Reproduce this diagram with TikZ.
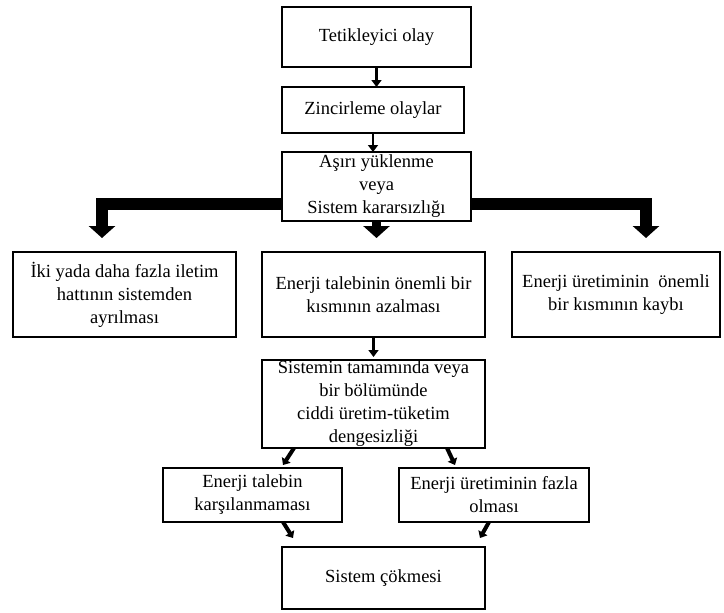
\documentclass[tikz,border=0pt]{standalone}
\usepackage{fontspec}
\setmainfont{Liberation Serif}
\usetikzlibrary{arrows.meta, positioning}
\tikzstyle{box}    = [rectangle, draw=black, line width=2pt, fill=white,
                      align=center, inner sep=2pt, outer sep=0pt,
                      font=\fontsize{18.5}{23}\selectfont]
\tikzstyle{arr}    = [-{Triangle[length=7pt,width=10pt]}, line width=2.5pt]
\tikzstyle{fatarr} = [-{Triangle[length=12pt,width=26pt]}, line width=12pt]
\tikzstyle{darr}   = [-{Triangle[length=6pt,width=10pt]}, line width=4pt]

\begin{document}
\begin{tikzpicture}[node distance=20pt and 26pt]

  \useasboundingbox (0,0) rectangle (724pt,-613pt);

  \node[box, minimum width=189pt, minimum height=60pt] (trig)
      at (376.5pt,-37pt) {Tetikleyici olay};
  \node[box, below=20pt of trig, xshift=-3.5pt, minimum width=182pt,
        minimum height=46pt] (chain) {Zincirleme olaylar};
  \node[box, below=19pt of chain, xshift=3.5pt, minimum width=189pt,
        minimum height=69pt, inner sep=0pt] (over)
      {Aşırı yüklenme\\veya\\Sistem kararsızlığı};

  \draw[arr] (trig.south) -- (trig.south |- chain.north);
  \draw[arr] (chain.south) -- (chain.south |- over.north);

  \node[box, below=31pt of over, xshift=-3pt, minimum width=223pt,
        minimum height=85pt] (mid)
      {Enerji talebinin önemli bir\\kısmının azalması};
  \node[box, left=of mid, minimum width=223pt, minimum height=85pt] (lft)
      {İki yada daha fazla iletim\\hattının sistemden\\ayrılması};
  \node[box, right=27pt of mid, minimum width=208pt, minimum height=85pt]
      (rgt) {Enerji üretiminin\ \ önemli\\bir kısmının kaybı};

  \draw[fatarr] ([yshift=-17.5pt]over.west)
      -| ([xshift=-22.5pt,yshift=14pt]lft.north);
  \draw[fatarr] ([yshift=-17.5pt]over.east)
      -| ([xshift=30pt,yshift=14pt]rgt.north);
  \draw[fatarr, line width=9pt, shorten >=14pt]
      (over.south) -- (over.south |- mid.north);

  \node[box, below=23pt of mid, minimum width=223pt, minimum height=88pt,
        inner sep=0pt] (imbal)
      {Sistemin tamamında veya\\bir bölümünde\\ciddi üretim-tüketim\\dengesizliği};
  \draw[arr, line width=3.5pt, shorten >=3pt] (mid.south) -- (imbal.north);

  \node[box, below=20pt of imbal, xshift=-121pt, minimum width=179pt,
        minimum height=54pt] (lack) {Enerji talebin\\karşılanmaması};
  \node[box, below=20pt of imbal, xshift=120.5pt, minimum width=190pt,
        minimum height=54pt] (surplus) {Enerji üretiminin fazla\\olması};
  \node[box, below=25pt of lack, xshift=131pt, minimum width=203pt,
        minimum height=62pt] (crash) {Sistem çökmesi};

  \draw[darr] ([xshift=-79.5pt]imbal.south)
      -- ([xshift=30.5pt,yshift=3pt]lack.north);
  \draw[darr] ([xshift=73.5pt]imbal.south)
      -- ([xshift=-39pt,yshift=3pt]surplus.north);
  \draw[darr] ([xshift=30.5pt]lack.south)
      -- ([xshift=-90.5pt,yshift=9pt]crash.north);
  \draw[darr] ([xshift=-5pt]surplus.south)
      -- ([xshift=96.5pt,yshift=9pt]crash.north);

\end{tikzpicture}
\end{document}
